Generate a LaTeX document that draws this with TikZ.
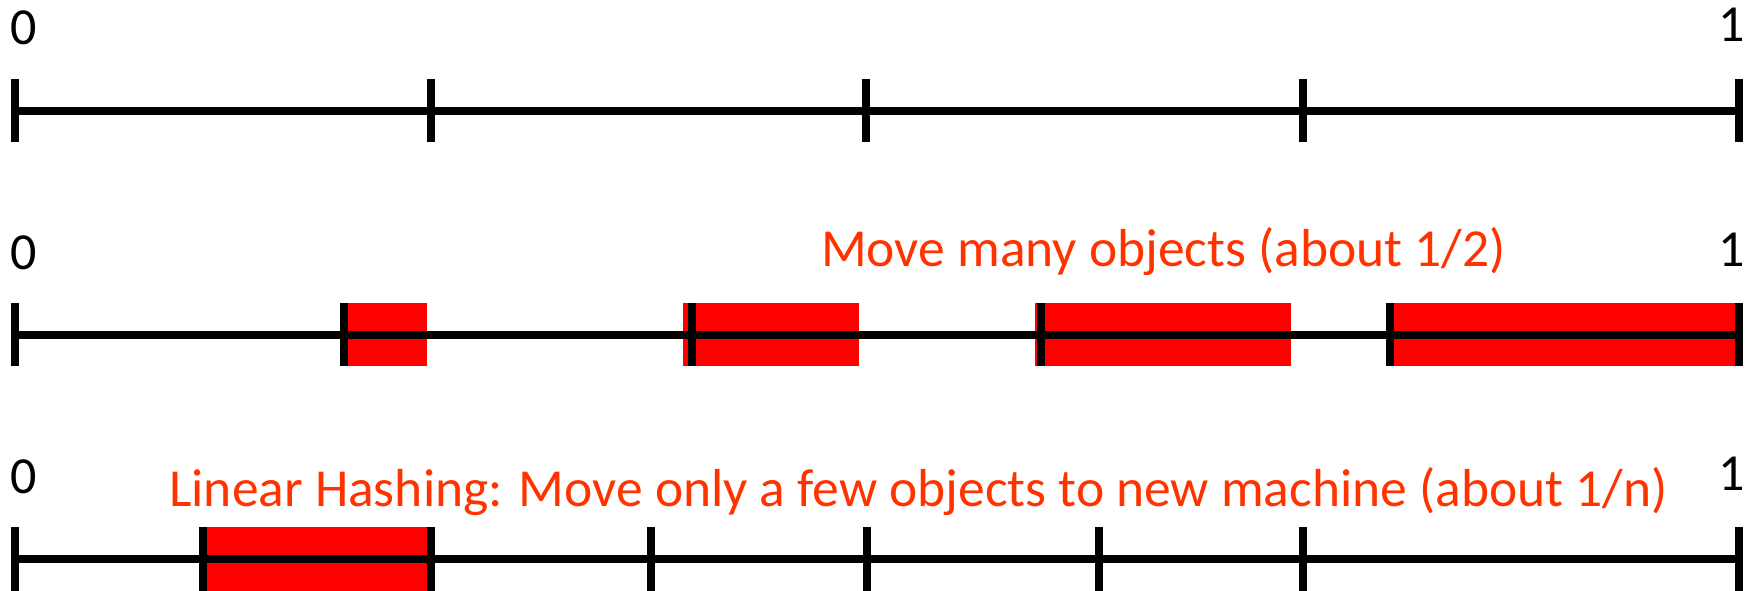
\documentclass[tikz,border=0pt]{standalone}
\usepackage{fontspec}
\setmainfont{Carlito}
\definecolor{boxred}{HTML}{FF0000}
\definecolor{txtred}{HTML}{FF3300}
\tikzset{
  axisline/.style={line width=8pt, black},
  tickmark/.style={line width=8pt, black},
  movedbox/.style={fill=boxred, draw=none},
  endlabel/.style={inner sep=0pt, font=\fontsize{52}{60}\selectfont, text=black},
  note/.style={inner sep=0pt, anchor=base west, font=\fontsize{53.5}{62}\selectfont, text=txtred}
}
\begin{document}
\begin{tikzpicture}[x=1pt,y=-1pt]
\useasboundingbox (0,0) rectangle (1756,591);
% ---------- row 1 ----------
\node[endlabel, anchor=base west] (zeroA) at (10,45) {0};
\node[endlabel, anchor=base east] (oneA) at (1745,42) {1};
\draw[axisline] (15,110.8) -- (1739,110.8);
\foreach \x in {15,431,866,1303,1739}
  \draw[tickmark] (\x,79) -- (\x,142.5);
% ---------- row 2 ----------
\fill[movedbox] (340,303) rectangle (427,366);
\fill[movedbox] (683,303) rectangle (859,366);
\fill[movedbox] (1035,303) rectangle (1291,366);
\fill[movedbox] (1388,303) rectangle (1739,366);
\node[endlabel, anchor=base west] (zeroB) at (10,269.5) {0};
\node[endlabel, anchor=base east] (oneB) at (1745,266) {1};
\node[note] (noteB) at (821,266.5) {Move many objects (about 1/2)};
\draw[axisline] (15,335) -- (1739,335);
\foreach \x in {15,344,692,1041,1390,1739}
  \draw[tickmark] (\x,303) -- (\x,366);
% ---------- row 3 ----------
\fill[movedbox] (200,527) rectangle (429,591);
\node[endlabel, anchor=base west] (zeroC) at (10,493.8) {0};
\node[endlabel, anchor=base east] (oneC) at (1745,490) {1};
\node[note] (noteC) at (169,506) {Linear Hashing: Move only a few objects to new machine (about 1/n)};
\draw[axisline] (15,559) -- (1739,559);
\foreach \x in {15,203,431,651,867,1099,1303,1739}
  \draw[tickmark] (\x,527) -- (\x,591);
\end{tikzpicture}
\end{document}
